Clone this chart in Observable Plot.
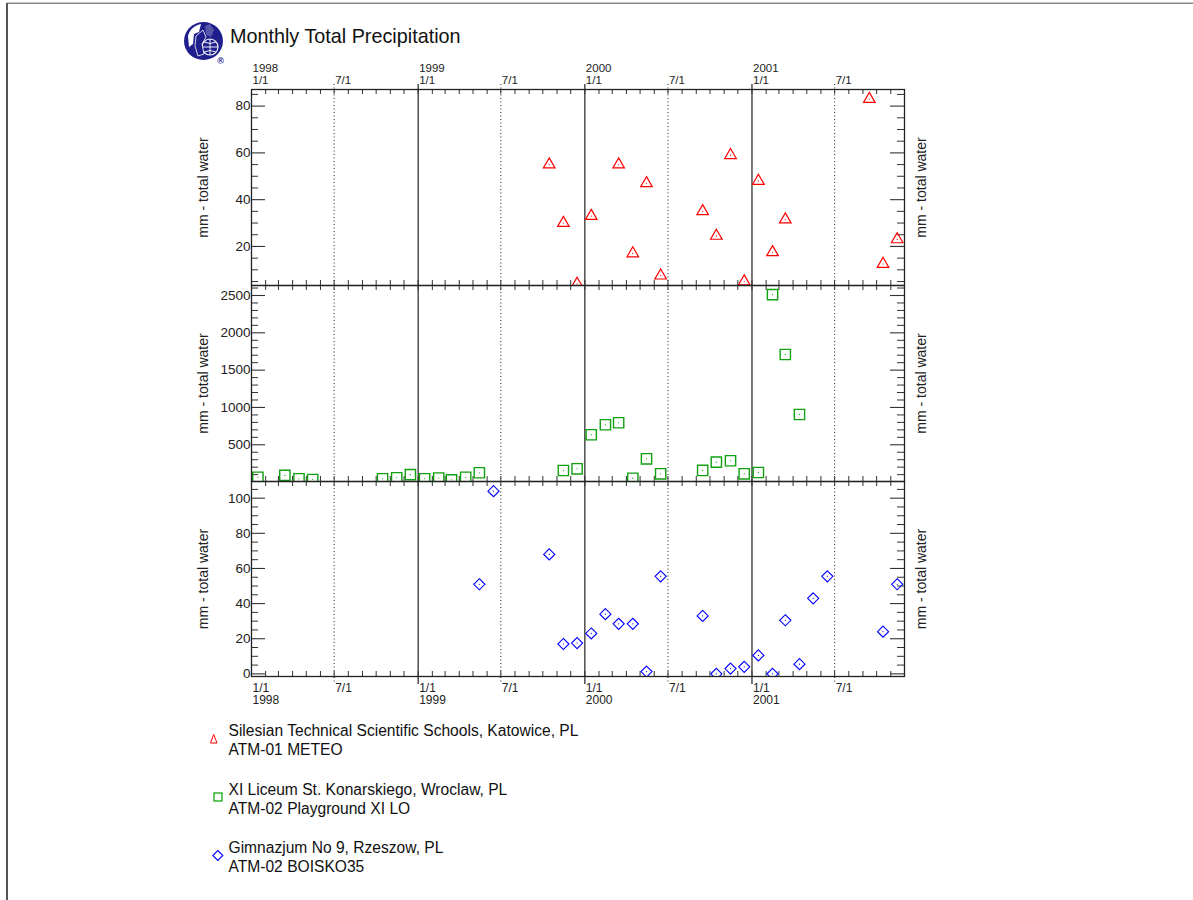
<!DOCTYPE html>
<html><head><meta charset="utf-8">
<script src="https://cdn.jsdelivr.net/npm/d3@7"></script>
<script src="https://cdn.jsdelivr.net/npm/@observablehq/plot@0.6"></script>
<style>
html,body{margin:0;padding:0;background:#fff;}
#root{position:relative;width:1193px;height:900px;overflow:hidden;font-family:"Liberation Sans",Arial,sans-serif;background:#fff;}
.panel{position:absolute;left:0;}
.panel svg{overflow:visible;display:block;}
#deco{position:absolute;left:0;top:0;}
</style></head><body><div id="root"><svg id="deco" width="1193" height="900"></svg></div>
<script>
// ---- data (month = "YYYY-MM", value = mm) ----
const katowiceMonths = ["1999-10","1999-11","1999-12","2000-01","2000-03","2000-04","2000-05","2000-06","2000-09","2000-10","2000-11","2000-12","2001-01","2001-02","2001-03","2001-09","2001-10","2001-11"];
const katowiceValues = [55,30,4,33,55,17,47,7.5,35,24.5,59,5,48,17.5,31.5,83,12.5,23];

const wroclawMonths = ["1998-01","1998-03","1998-04","1998-05","1998-10","1998-11","1998-12","1999-01","1999-02","1999-03","1999-04","1999-05","1999-11","1999-12","2000-01","2000-02","2000-03","2000-04","2000-05","2000-06","2000-09","2000-10","2000-11","2000-12","2001-01","2001-02","2001-03","2001-04"];
const wroclawValues = [65,90,45,35,45,58,100,45,55,30,65,125,155,178,634,768,795,52,312,111,156,267,286,111,129,2511,1710,906];

const rzeszowMonths = ["1999-05","1999-06","1999-10","1999-11","1999-12","2000-01","2000-02","2000-03","2000-04","2000-05","2000-06","2000-09","2000-10","2000-11","2000-12","2001-01","2001-02","2001-03","2001-04","2001-05","2001-06","2001-10","2001-11"];
const rzeszowValues = [51,104,68,17,17.5,23,34,28.5,28.5,1.3,55.5,33,0,3,4,10.5,0,30.5,5.5,43,55.5,24,51];

const seriesNames = [
  ["Silesian Technical Scientific Schools, Katowice, PL","ATM-01 METEO"],
  ["XI Liceum St. Konarskiego, Wroclaw, PL","ATM-02 Playground XI LO"],
  ["Gimnazjum No 9, Rzeszow, PL","ATM-02 BOISKO35"]
];
const seriesColors = ["#ff0000","#00a000","#0000ff"];
const titleText = "Monthly Total Precipitation";
const yLabel = "mm - total water";

const yMajors1 = [20,40,60,80];
const yMajors2 = [500,1000,1500,2000,2500];
const yMajors3 = [0,20,40,60,80,100];
const yDomain1 = [3.3,87.1];
const yDomain2 = [8,2634];
const yDomain3 = [-1.5,109.5];

// ---- helpers ----
const toDate = m => { const [y,mo] = m.split("-").map(Number); return new Date(Date.UTC(y,mo-1,15)); };
const rows = (months, values) => months.map((m,i)=>({date: toDate(m), value: values[i]}));

const W = 1193, ML = 251, MR = W - 904;
const innerW = W - ML - MR;
const xDomain = [new Date(Date.UTC(1998,0,1)), new Date(Date.UTC(2001,11,1))];
const monthTicks = d3.utcMonth.range(xDomain[0], new Date(Date.UTC(2001,11,2)));
const yearStarts = d3.utcYear.range(new Date(Date.UTC(1998,0,1)), new Date(Date.UTC(2001,1,1)));
const julys = yearStarts.map(d => new Date(Date.UTC(d.getUTCFullYear(),6,1)));
const solidLines = yearStarts.slice(1);
const FONT = '"Liberation Sans", Arial, sans-serif';

function range(a,b,s){const r=[];for(let v=a;v<=b+1e-9;v+=s)r.push(+v.toFixed(6));return r;}

function panel({top, height, marginTop, marginBottom, yDomain, majors, minors, data, symbol, color, r, sw, topAxis, bottomAxis}) {
  const innerH = height - marginTop - marginBottom;
  const xt = {frameAnchor: topAxis ? "top" : "bottom", textAnchor: "start", lineAnchor: "bottom", dx: 1, fill: "#222", fontSize: 12, letterSpacing: "0.7px"};
  const marks = [
    Plot.ruleX(solidLines, {x: d=>d, stroke: "#222", strokeWidth: 1.2, insetTop: topAxis ? -5 : 0, insetBottom: bottomAxis ? -8 : 0}),
    Plot.ruleX(julys, {x: d=>d, stroke: "#222", strokeWidth: 1, strokeDasharray: "1,2.5", insetTop: topAxis ? -5 : 0, insetBottom: bottomAxis ? -8 : 0}),
    Plot.ruleX(monthTicks, {x: d=>d, stroke: "#333", strokeWidth: 1, insetBottom: innerH - 5}),
    Plot.ruleX(monthTicks, {x: d=>d, stroke: "#333", strokeWidth: 1, insetTop: innerH - 5}),
    Plot.ruleY(majors, {y: d=>d, stroke: "#333", strokeWidth: 1.1, insetRight: innerW - 14}),
    Plot.ruleY(minors, {y: d=>d, stroke: "#333", strokeWidth: 1, insetRight: innerW - 7}),
    Plot.ruleY(majors, {y: d=>d, stroke: "#333", strokeWidth: 1.1, insetLeft: innerW - 14}),
    Plot.ruleY(minors, {y: d=>d, stroke: "#333", strokeWidth: 1, insetLeft: innerW - 7}),
    Plot.text(majors, {y: d=>d, text: d=>String(d), frameAnchor: "left", textAnchor: "end", dx: -1, fill: "#222", fontSize: 13.5, letterSpacing: "2px"}),
    Plot.text([yLabel], {text: d=>d, frameAnchor: "left", textAnchor: "middle", dx: -48, rotate: -90, fill: "#222", fontSize: 14}),
    Plot.text([yLabel], {text: d=>d, frameAnchor: "right", textAnchor: "middle", dx: 17, rotate: -90, fill: "#222", fontSize: 14}),
    Plot.dot(data, {x: "date", y: "value", symbol, stroke: color, strokeWidth: sw, r, clip: true}),
    Plot.dot(data, {x: "date", y: "value", fill: color, stroke: null, r: 0.6, clip: true}),
    Plot.frame({stroke: "#222", strokeWidth: 1.3})
  ];
  if (topAxis) {
    marks.push(
      Plot.text(yearStarts, {...xt, x: d=>d, text: d=>String(d.getUTCFullYear()) + "\n1/1", fontSize: 11.5, lineHeight: 1.06, dy: -5.5}),
      Plot.text(julys, {...xt, x: d=>d, text: d=>"7/1", fontSize: 11.5, dy: -5.5})
    );
  }
  if (bottomAxis) {
    marks.push(
      Plot.text(yearStarts, {...xt, x: d=>d, text: d=>"1/1\n" + String(d.getUTCFullYear()), lineHeight: 1.04, dy: 27.5}),
      Plot.text(julys, {...xt, x: d=>d, text: d=>"7/1", dy: 15})
    );
  }
  const chart = Plot.plot({
    width: W, height, marginLeft: ML, marginRight: MR, marginTop, marginBottom,
    x: {type: "utc", domain: xDomain, axis: null},
    y: {domain: yDomain, axis: null},
    style: {background: "transparent", overflow: "visible", fontFamily: FONT, fontSize: "12px", color: "#222"},
    marks
  });
  const div = document.createElement("div");
  div.className = "panel";
  div.style.top = top + "px";
  div.appendChild(chart);
  document.getElementById("root").appendChild(div);
}

panel({top: 0, height: 285, marginTop: 89, marginBottom: 0, yDomain: yDomain1, majors: yMajors1,
  minors: range(5,85,5).filter(v=>!yMajors1.includes(v)), data: rows(katowiceMonths,katowiceValues),
  symbol: "triangle", color: seriesColors[0], r: 4.3, sw: 1.2, topAxis: true, bottomAxis: false});
panel({top: 285, height: 196, marginTop: 0, marginBottom: 0, yDomain: yDomain2, majors: yMajors2,
  minors: range(100,2600,100).filter(v=>!yMajors2.includes(v)), data: rows(wroclawMonths,wroclawValues),
  symbol: "square", color: "#10a010", r: 5.8, sw: 1.4, topAxis: false, bottomAxis: false});
panel({top: 481, height: 235, marginTop: 0, marginBottom: 40, yDomain: yDomain3, majors: yMajors3,
  minors: range(0,105,5).filter(v=>!yMajors3.includes(v)), data: rows(rzeszowMonths,rzeszowValues),
  symbol: "diamond2", color: seriesColors[2], r: 5, sw: 1.1, topAxis: false, bottomAxis: true});

// ---- decorations: border, logo, title, legend ----
const deco = d3.select("#deco");
deco.append("line").attr("x1",7).attr("y1",3.3).attr("x2",1193).attr("y2",3.3).attr("stroke","#888").attr("stroke-width",1.5);
deco.append("line").attr("x1",7).attr("y1",3).attr("x2",7).attr("y2",900).attr("stroke","#555").attr("stroke-width",2);

const logo = deco.append("g");
logo.append("ellipse").attr("cx",203.5).attr("cy",41).attr("rx",19.5).attr("ry",19).attr("fill","#1e1e8c");
logo.append("path").attr("d","M188,36 C190,28 196,25 201,24 L199,32 L194,34 L193,44 L189,47 Z").attr("fill","#fff");
logo.append("path").attr("d","M205,26 L210,24 L214,30 L211,37 L206,35 Z").attr("fill","#fff").attr("opacity",0.25);
logo.append("circle").attr("cx",210).attr("cy",47).attr("r",8).attr("fill","none").attr("stroke","#fff").attr("stroke-width",1.1);
logo.append("path").attr("d","M202,47 L218,47 M210,39 L210,55 M204,42 Q210,45 216,42 M204,52 Q210,49 216,52").attr("fill","none").attr("stroke","#fff").attr("stroke-width",0.9);
logo.append("path").attr("d","M196,36 L203,30 L206,37 L202,44 L204,54 L198,56 L195,46 Z").attr("fill","#1e1e8c").attr("stroke","#fff").attr("stroke-width",0.8);
deco.append("text").attr("x",220.5).attr("y",64).attr("font-size",9).attr("font-weight","bold").attr("text-anchor","middle").attr("fill","#1e1e8c").attr("font-family",FONT).text("®");

deco.append("text").attr("x",230).attr("y",43).attr("font-size",19.8).attr("fill","#111").attr("font-family",FONT).text(titleText);

const legendY = [736, 794.5, 853];
seriesNames.forEach((lines,i)=>{
  lines.forEach((t,j)=>{
    deco.append("text").attr("x",228.5).attr("y",legendY[i]+j*19).attr("font-size",15.6).attr("fill","#111").attr("font-family",FONT).text(t);
  });
});
deco.append("path").attr("d","M213.7,734.5 L217,743 L210.5,743 Z").attr("fill","none").attr("stroke",seriesColors[0]).attr("stroke-width",1);
deco.append("rect").attr("x",214).attr("y",793).attr("width",8).attr("height",8).attr("fill","none").attr("stroke",seriesColors[1]).attr("stroke-width",1.2);
deco.append("path").attr("d","M217.8,850.5 L222.8,855.5 L217.8,860.5 L212.8,855.5 Z").attr("fill","none").attr("stroke",seriesColors[2]).attr("stroke-width",1.1);
</script>
</body></html>
